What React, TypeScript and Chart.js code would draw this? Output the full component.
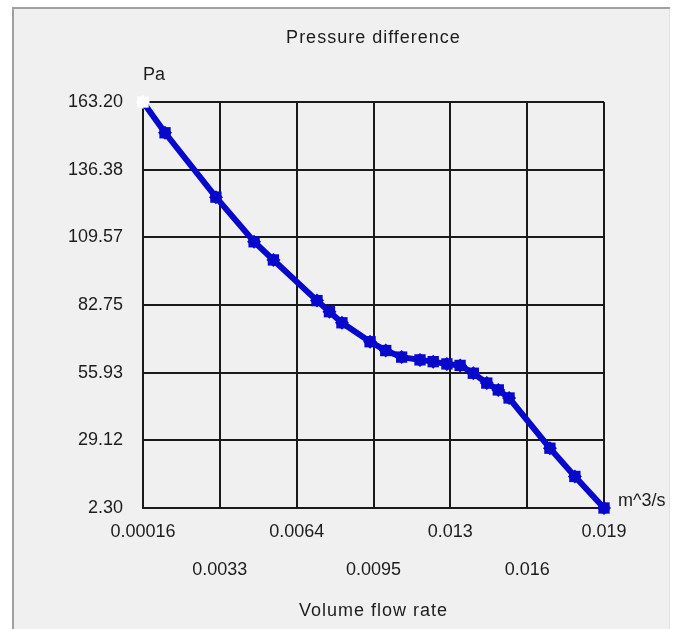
import React, { useEffect, useRef } from 'react';
import { Chart, registerables } from 'chart.js';

Chart.register(...registerables);

// Data
const flowRate = [
  0.00016, 0.00106, 0.00314, 0.0047, 0.00549, 0.00727, 0.00778, 0.00829, 0.00944, 0.01008, 0.01073,
  0.01148, 0.01202, 0.01258, 0.01312, 0.01366, 0.01421, 0.01468, 0.01512, 0.01679, 0.01781, 0.019,
];
const pressure = [
  163.2, 151.0, 125.5, 107.8, 100.6, 84.5, 80.1, 75.7, 68.2, 64.7, 62.1,
  61.0, 60.3, 59.4, 58.8, 55.7, 51.8, 49.1, 45.9, 26.0, 14.8, 2.3,
];
const xTickValues = [0.00016, 0.0033, 0.00644, 0.00958, 0.01272, 0.01586, 0.019];
const xTickLabels = ['0.00016', '0.0033', '0.0064', '0.0095', '0.013', '0.016', '0.019'];
const yTickValues = [2.3, 29.12, 55.93, 82.75, 109.57, 136.38, 163.2];
const yTickLabels = ['2.30', '29.12', '55.93', '82.75', '109.57', '136.38', '163.20'];

const chartTitle = 'Pressure difference';
const xAxisTitle = 'Volume flow rate';
const xUnit = 'm^3/s';
const yUnit = 'Pa';

const FONT = '18px "Liberation Sans", Arial, sans-serif';
const TEXT = '#1c1c1c';
const BLUE = '#0808cc';
const GRID = '#1a1a1a';

const framePlugin = {
  id: 'frame',
  beforeDraw(chart: any) {
    const { ctx, width, height } = chart;
    ctx.save();
    ctx.fillStyle = '#ffffff';
    ctx.fillRect(0, 0, width, height);
    ctx.fillStyle = '#f0f0f0';
    ctx.fillRect(12, 7, 658, height - 7);
    ctx.strokeStyle = '#a0a0a0';
    ctx.lineWidth = 2;
    ctx.beginPath();
    ctx.moveTo(12, 8);
    ctx.lineTo(670, 8);
    ctx.moveTo(13, 7);
    ctx.lineTo(13, height);
    ctx.stroke();
    ctx.strokeStyle = '#e2e2e2';
    ctx.lineWidth = 1;
    ctx.beginPath();
    ctx.moveTo(669.5, 9);
    ctx.lineTo(669.5, height);
    ctx.stroke();
    ctx.restore();
  },
};

const labelsPlugin = {
  id: 'labels',
  afterDraw(chart: any) {
    const { ctx, chartArea } = chart;
    const xs = chart.scales.x;
    const ys = chart.scales.y;
    ctx.save();
    ctx.font = FONT;
    ctx.fillStyle = TEXT;
    ctx.textBaseline = 'middle';

    // Titles
    ctx.textAlign = 'center';
    (ctx as any).letterSpacing = '1px';
    ctx.fillText(chartTitle, (chartArea.left + chartArea.right) / 2, 38);
    ctx.fillText(xAxisTitle, (chartArea.left + chartArea.right) / 2, chartArea.bottom + 103);
    (ctx as any).letterSpacing = '0px';

    // Y tick labels
    ctx.textAlign = 'right';
    yTickValues.forEach((v, i) => {
      ctx.fillText(yTickLabels[i], chartArea.left - 20, ys.getPixelForValue(v));
    });

    // X tick labels in two staggered rows
    ctx.textAlign = 'center';
    xTickValues.forEach((v, i) => {
      const y = i % 2 === 0 ? chartArea.bottom + 24 : chartArea.bottom + 62;
      ctx.fillText(xTickLabels[i], xs.getPixelForValue(v), y);
    });

    // Units
    ctx.textAlign = 'left';
    ctx.fillText(yUnit, chartArea.left, chartArea.top - 27);
    ctx.fillText(xUnit, chartArea.right + 14, chartArea.bottom - 7);
    ctx.restore();
  },
};

export default function App() {
  const canvasRef = useRef<HTMLCanvasElement | null>(null);

  useEffect(() => {
    document.body.style.margin = '0';
    const canvas = canvasRef.current;
    if (!canvas) return;
    const points = flowRate.map((x, i) => ({ x, y: pressure[i] }));
    const pointColors = flowRate.map((_, i) => (i === 0 ? '#ffffff' : BLUE));
    const chart = new Chart(canvas, {
      type: 'line',
      data: {
        datasets: [
          {
            data: points,
            borderColor: BLUE,
            borderWidth: 6,
            backgroundColor: pointColors,
            pointBackgroundColor: pointColors,
            pointBorderColor: pointColors,
            pointBorderWidth: 0,
            pointStyle: 'rect',
            pointRadius: 8,
            tension: 0,
            clip: false as any,
          },
          {
            data: points,
            showLine: false,
            pointBackgroundColor: pointColors,
            pointBorderColor: pointColors,
            pointBorderWidth: 0,
            pointStyle: 'rectRot',
            pointRadius: 7,
            clip: false as any,
          },
        ],
      },
      options: {
        responsive: false,
        animation: false,
        events: [],
        layout: { padding: { left: 143, right: 72, top: 102, bottom: 121 } },
        plugins: { legend: { display: false }, tooltip: { enabled: false }, title: { display: false } },
        scales: {
          x: {
            type: 'linear',
            min: xTickValues[0],
            max: xTickValues[xTickValues.length - 1],
            ticks: { display: false },
            grid: { color: GRID, lineWidth: 2, drawTicks: false },
            border: { color: GRID, width: 2 },
            afterBuildTicks: (s: any) => {
              s.ticks = xTickValues.map((v) => ({ value: v }));
            },
          },
          y: {
            type: 'linear',
            min: yTickValues[0],
            max: yTickValues[yTickValues.length - 1],
            ticks: { display: false },
            grid: { color: GRID, lineWidth: 2, drawTicks: false },
            border: { color: GRID, width: 2 },
            afterBuildTicks: (s: any) => {
              s.ticks = yTickValues.map((v) => ({ value: v }));
            },
          },
        },
      },
      plugins: [framePlugin, labelsPlugin],
    });
    return () => chart.destroy();
  }, []);

  return <canvas ref={canvasRef} width={676} height={629} style={{ display: 'block' }} />;
}
